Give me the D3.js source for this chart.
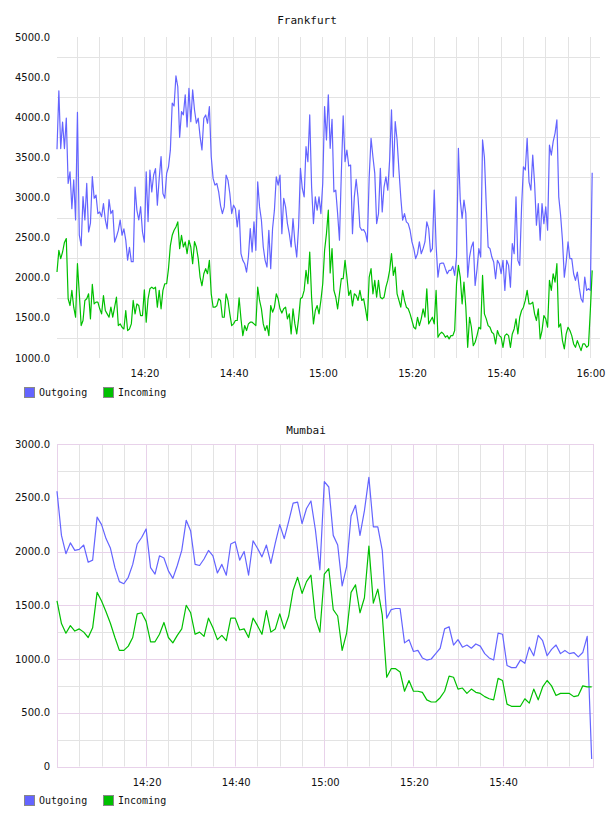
<!DOCTYPE html>
<html>
<head>
<meta charset="utf-8">
<script src="https://cdn.jsdelivr.net/npm/d3@7"></script>
<style>
  body { margin: 0; background: #fff; }
  svg { display: block; }
</style>
</head>
<body>
<svg id="vis"></svg>
<script>
// ---- data ----
// Frankfurt: one sample every 25 s, first one at 14:00:30
const fraStart = "14:00:30"
const fraStepSec = 25
const fraOutgoing = [
  3600,4330,3610,3940,3610,3990,3175,3320,2860,3220, 2720,4060,2530,2400,3010,2720,3175,2570,2680,3260,
  2990,3030,2800,2820,2760,2925,2720,2610,2975,2800, 2840,2445,2510,2590,2720,2530,2610,2470,2220,2380,
  2200,2200,3130,2840,2720,2885,2570,2445,3320,2700, 3340,3070,3280,3360,2905,3240,3510,3050,2990,3300,
  3380,3590,4175,4140,4515,4380,3750,4070,4030,4280, 3880,4360,3945,4340,4090,
  3925,3988,3758,3592,3988,4029,3925,4133,3508,3238, 3154,3175,3071,2900,2800,2883,3279,3217,3050,2800,
  2904,2860,2633,2842,2300,2217,2175,2071,2258,2613, 2321,2696,2342,3196,2883,2717,2383,2217,2133,2592,
  2113,2613,2842,3258,3154,3279,2550,2988,2883,2675, 2550,2383,2738,2446,2258,2633,3363,3113,3008,3633,
  3446,4029,3133,2675,3008,2842,3008,2800,3175,4133, 3717,4279,
  3613,3975,3071,3092,2800,2467,3300,4017,3446,3592, 3392,3404,2550,3008,3225,3000,2633,2592,2600,2558,
  2446,3258,3738,3508,3300,2675,2800,3363,2821,3133, 3258,3092,3467,4092,3258,3946,3717,3342,3000,2717,
  2800,2696,2675,2592,2446,2363,2238,2300,2446,2300, 2363,2446,2696,2613,2321,2363,3092,2404,2008,2175,
  2183,2183,2113,2050,2092,2092,2142,2029,2258,3613, 2967,2738,2967,
  2800,2008,2258,2383,2446,1904,2100,2363,2258,3717, 3500,2900,2383,2363,2258,2196,1988,2217,2175,2050,
  2217,1842,2217,2154,1883,2425,2300,3008,2217,2154, 2883,3383,3342,3738,3196,3092,3529,3175,2654,2925,
  2467,2925,2675,2883,2592,3654,3529,3696,3800,3967, 3008,2779,2467,2008,2196,2446,2238,2238,2050,1967,
  2071,1883,1738,1696,2008,1842,1863,1842,3308
]
const fraIncoming = [
  2071,2342,2238,2321,2440,2488,1738,1654,1842,1633, 1508,2175,1800,1404,1467,1717,1738,1800,1488,1917,
  1675,1696,1696,1613,1550,1779,1592,1550,1508,1633, 1508,1633,1758,1404,1425,1383,1362,1592,1342,1362,
  1425,1717,1550,1675,1654,1529,1529,1850,1446,1738, 1863,1883,1863,1883,1633,1842,1613,1842,1925,1925,
  2113,2400,2529,2592,2633,2696,2363,2529,2383,2446, 2300,2467,2383,2175,2450,
  2383,2238,2008,1900,2050,2113,2050,2217,1800,1633, 1633,1650,1738,1717,1508,1508,1800,1717,1550,1404,
  1425,1467,1467,1750,1488,1279,1404,1342,1425,1446, 1446,1425,1404,1883,1717,1613,1425,1342,1404,1279,
  1654,1571,1633,1800,1738,1613,1560,1613,1633,1488, 1550,1300,1613,1425,1300,1488,1738,1758,1842,2092,
  1925,2321,1758,1425,1592,1654,1550,1717,1925,2342, 2550,2842,
  2060,2363,1842,1760,1613,1800,1988,1988,2217,2008, 1779,1842,1650,1800,1779,1717,1842,1717,1738,1613,
  1467,2008,2113,1800,1967,1758,1967,1758,1738,1758, 1883,1967,2092,2300,2029,2133,1800,1717,1633,1842,
  1717,1633,1613,1550,1467,1383,1362,1508,1404,1488, 1613,1508,1863,1425,1467,1508,1425,1842,1258,1300,
  1321,1300,1258,1279,1238,1279,1279,1342,1925,2154, 2008,1675,1946,
  1633,1133,1508,1383,1154,1196,1279,1383,1362,2029, 1550,1488,1404,1383,1321,1300,1175,1342,1279,1258,
  1133,1279,1300,1279,1133,1300,1362,1488,1300,1508, 1592,1633,1717,1842,1675,1675,1696,1550,1467,1613,
  1238,1342,1529,1488,1383,1967,1842,2050,1946,2175, 1383,1425,1217,1113,1300,1383,1342,1279,1175,1133,
  1217,1154,1092,1175,1175,1133,1154,1592,2092
]

// Mumbai: one sample per minute, first one at 14:00:00
const mumStart = "14:00:00"
const mumStepSec = 60
const mumOutgoing = [
  2560,2150,1980,2080,2010,2020,2060,1900,1920,2320, 2250,2120,2030,1850,1720,1700,1760,1880,2070,2130,
  2210,1850,1790,1960,1940,1820,1750,1870,2010,2290, 2190,1880,1870,1930,2010,1960,1800,1880,1780,2070,
  2090,1920,2000,1780,2100,2030,1950,2060,1890,2080, 2250,2120,2280,2450,2460,2260,2400,2470,2200,1830,
  2650,2600,2150,2060,1680,1860,2330,2430,2150,2380, 2690,2230,2230,2010,1380,1460,1470,1470,1150,1180,
  1070,1080,1010,990,1000,1050,1100,1280,1300,1130,   1180,1110,1130,1100,1140,1120,1050,1010,990,1240,
  1230,940,920,920,990,960,1110,1030,1220,1170,       1030,1090,1130,1050,1080,1050,1060,1020,1060,1210,
  70
]
const mumIncoming = [
  1540,1330,1240,1310,1260,1280,1250,1200,1290,1620, 1540,1440,1330,1200,1080,1080,1120,1200,1420,1430,
  1350,1160,1160,1230,1340,1200,1150,1220,1280,1500, 1430,1230,1250,1210,1380,1290,1180,1220,1170,1380,
  1380,1270,1280,1200,1380,1310,1230,1450,1250,1280, 1420,1280,1400,1640,1760,1610,1720,1780,1380,1250,
  1790,1840,1460,1400,1080,1240,1620,1690,1430,1570, 2050,1520,1650,1410,830,910,910,880,700,800,
  700,700,690,620,600,600,640,700,840,830,            720,730,680,720,690,680,650,630,620,820,
  800,580,560,560,560,630,590,720,620,740,            800,750,660,680,680,680,650,660,750,740,
  740
]

const seriesNames = ["Outgoing", "Incoming"]
const fraTimeLabels = ["14:20", "14:40", "15:00", "15:20", "15:40", "16:00"]
const mumTimeLabels = ["14:20", "14:40", "15:00", "15:20", "15:40"]
const fraValueTicks = [1000, 1500, 2000, 2500, 3000, 3500, 4000, 4500, 5000]
const mumValueTicks = [0, 500, 1000, 1500, 2000, 2500, 3000]

// ---- drawing ----
const width = 608
const height = 816
const colors = ["#6464ff", "#00c000"]
const gridGray = "#e3e3e3"
const gridPink = "#e8d2ea"
const monoFont = "'DejaVu Sans Mono', monospace"
const sansFont = "'DejaVu Sans', sans-serif"

const parseTime = d3.timeParse("%H:%M:%S")
const parseHM = d3.timeParse("%H:%M")
const fmtValue = v => v === 0 ? "0" : d3.format(".1f")(v)

const svg = d3.select("#vis")
    .attr("width", width)
    .attr("height", height)

function timesFor(start, stepSec, n) {
  const t0 = parseTime(start)
  return d3.range(n).map(i => new Date(+t0 + i * stepSec * 1000))
}

function drawChart(opts) {
  const g = svg.append("g")
  const x = d3.scaleTime()
      .domain([parseTime(opts.xFrom), parseTime(opts.xTo)])
      .range([opts.left, opts.right])
  const y = d3.scaleLinear()
      .domain(d3.extent(opts.valueTicks))
      .range([opts.bottom, opts.top])

  // title
  g.append("text")
      .attr("x", opts.titleX)
      .attr("y", opts.titleY)
      .attr("text-anchor", "middle")
      .style("font", `11px ${monoFont}`)
      .attr("fill", "#111")
      .text(opts.title)

  // grid
  const fiveMin = x.ticks(d3.timeMinute.every(5))
  g.append("g").selectAll("line")
    .data(fiveMin.filter(t => !opts.pinkMajor || t.getMinutes() % 20 !== 0))
    .join("line")
      .attr("x1", d => Math.round(x(d)) + 0.5)
      .attr("x2", d => Math.round(x(d)) + 0.5)
      .attr("y1", opts.top)
      .attr("y2", opts.bottom)
      .attr("stroke", gridGray)

  g.append("g").selectAll("line")
    .data(opts.hGrid)
    .join("line")
      .attr("x1", opts.left)
      .attr("x2", opts.right)
      .attr("y1", d => Math.round(y(d)) + 0.5)
      .attr("y2", d => Math.round(y(d)) + 0.5)
      .attr("stroke", gridGray)

  if (opts.pinkMajor) {
    const majorX = opts.timeLabels.map(parseHM)
    g.append("g").selectAll("line")
      .data(majorX)
      .join("line")
        .attr("x1", d => Math.round(x(d)) + 0.5)
        .attr("x2", d => Math.round(x(d)) + 0.5)
        .attr("y1", opts.top)
        .attr("y2", opts.bottom)
        .attr("stroke", gridPink)
    g.append("g").selectAll("line")
      .data(opts.valueTicks)
      .join("line")
        .attr("x1", opts.left)
        .attr("x2", opts.right)
        .attr("y1", d => Math.round(y(d)) + 0.5)
        .attr("y2", d => Math.round(y(d)) + 0.5)
        .attr("stroke", gridPink)
    g.append("rect")
        .attr("x", opts.left + 0.5)
        .attr("y", Math.round(opts.top) + 0.5)
        .attr("width", opts.right - opts.left)
        .attr("height", Math.round(opts.bottom) - Math.round(opts.top))
        .attr("fill", "none")
        .attr("stroke", gridPink)
  }

  // value labels
  g.append("g").selectAll("text")
    .data(opts.valueTicks)
    .join("text")
      .attr("x", 50)
      .attr("y", d => y(d))
      .attr("dy", "0.35em")
      .attr("text-anchor", "end")
      .style("font", `10px ${sansFont}`)
      .attr("fill", "#111")
      .text(fmtValue)

  // time labels
  g.append("g").selectAll("text")
    .data(opts.timeLabels)
    .join("text")
      .attr("x", d => x(parseHM(d)) + 1)
      .attr("y", opts.bottom + 19)
      .attr("text-anchor", "middle")
      .style("font", `10px ${sansFont}`)
      .attr("fill", "#111")
      .text(d => d)

  // lines
  const times = timesFor(opts.start, opts.stepSec, opts.series[0].length)
  const line = d3.line()
      .x((d, i) => x(times[i]))
      .y(d => y(d))
  g.append("g").selectAll("path")
    .data(opts.series)
    .join("path")
      .attr("d", line)
      .attr("fill", "none")
      .attr("stroke", (d, i) => colors[i])
      .attr("stroke-width", 1.2)
      .attr("stroke-linejoin", "round")

  // legend
  const legend = g.append("g")
      .attr("transform", `translate(24,${opts.legendY})`)
      .selectAll("g")
      .data(seriesNames)
      .join("g")
      .attr("transform", (d, i) => `translate(${i * 79},0)`)
  legend.append("rect")
      .attr("x", 0.5)
      .attr("y", -4.5)
      .attr("width", 10)
      .attr("height", 10)
      .attr("fill", (d, i) => colors[i])
      .attr("stroke", "#888")
  legend.append("text")
      .attr("x", 15)
      .attr("y", 4)
      .style("font", `10px ${monoFont}`)
      .attr("fill", "#111")
      .text(d => d)
}

drawChart({
  title: "Frankfurt", titleX: 307, titleY: 24,
  left: 57, right: 600, top: 37, bottom: 358,
  xFrom: "14:00:30", xTo: "16:02:15",
  start: fraStart, stepSec: fraStepSec,
  series: [fraOutgoing, fraIncoming],
  valueTicks: fraValueTicks,
  hGrid: fraValueTicks.slice(0, -1).map(v => v + 250),
  timeLabels: fraTimeLabels,
  pinkMajor: false,
  legendY: 392
})

drawChart({
  title: "Mumbai", titleX: 306, titleY: 434,
  left: 57, right: 593, top: 444, bottom: 766.5,
  xFrom: "14:00:00", xTo: "16:00:18",
  start: mumStart, stepSec: mumStepSec,
  series: [mumOutgoing, mumIncoming],
  valueTicks: mumValueTicks,
  hGrid: mumValueTicks.slice(0, -1).map(v => v + 250),
  timeLabels: mumTimeLabels,
  pinkMajor: true,
  legendY: 800
})
</script>
</body>
</html>
